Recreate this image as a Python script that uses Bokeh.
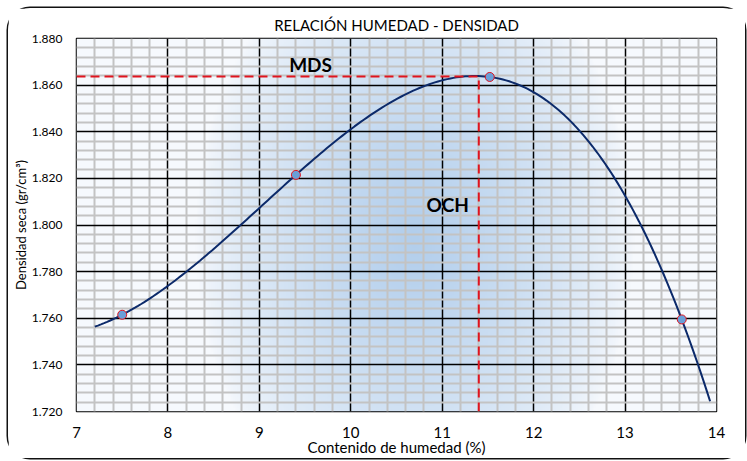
import numpy as np
from bokeh.plotting import figure
from bokeh.layouts import column, row
from bokeh.models import FixedTicker, NumeralTickFormatter, Range1d, Label, Spacer
from bokeh.embed import file_html
from bokeh.resources import INLINE

# ---- data ----
moisture = [7.5, 9.4, 11.52, 13.62]          # Contenido de humedad (%)
density = [1.7615, 1.8215, 1.8635, 1.7595]   # Densidad seca (gr/cm3)
curve_start = 7.2
curve_end = 13.93
och = 11.40      # optimo contenido de humedad
mds = 1.8637     # maxima densidad seca
x_ticks = [7, 8, 9, 10, 11, 12, 13, 14]
y_ticks = [1.72, 1.74, 1.76, 1.78, 1.80, 1.82, 1.84, 1.86, 1.88]
title = "RELACIÓN HUMEDAD - DENSIDAD"

FONT = "Lato"
W, H = 737, 450


def minors(ticks, n=5):
    out = []
    for a, b in zip(ticks[:-1], ticks[1:]):
        out += [a + (b - a) * k / n for k in range(1, n)]
    return out


p = figure(width=W, height=H, output_backend="svg", toolbar_location=None,
           x_range=Range1d(7, 14), y_range=Range1d(1.72, 1.88),
           min_border_left=68, min_border_right=29, min_border_top=30,
           min_border_bottom=47)
p.styles = {"border-radius": "22px", "box-shadow": "0 0 0 1.5px #111"}
p.background_fill_color = "white"
p.border_fill_color = "white"
p.outline_line_color = "black"
p.outline_line_width = 1.5

p.title.text = title
p.title.align = "center"
p.title.text_font = FONT
p.title.text_font_style = "normal"
p.title.text_font_size = "15px"
p.title.text_color = "black"
p.title.standoff = 9

# background radial gradient (style only)
nx, ny = 350, 200
gx = np.linspace(7, 14, nx)
gy = np.linspace(1.72, 1.88, ny)
GX, GY = np.meshgrid(gx, gy)
r = np.sqrt(((GX - 10.7) / 2.4) ** 2 + ((GY - 1.795) / 0.13) ** 2)
t = np.clip(1 - r, 0, 1) ** 0.7
c0 = np.array([246, 249, 253])
c1 = np.array([178, 206, 236])
img = np.empty((ny, nx), dtype=np.uint32)
view = img.view(dtype=np.uint8).reshape((ny, nx, 4))
for k in range(3):
    view[:, :, k] = (c0[k] + (c1[k] - c0[k]) * t).astype(np.uint8)
view[:, :, 3] = 255
p.image_rgba(image=[img], x=7, y=1.72, dw=7, dh=0.16, level="image")

# axes
p.xaxis.ticker = FixedTicker(ticks=x_ticks, minor_ticks=minors(x_ticks))
p.yaxis.ticker = FixedTicker(ticks=y_ticks, minor_ticks=minors(y_ticks))
p.yaxis.formatter = NumeralTickFormatter(format="0.000")
for ax in (p.xaxis[0], p.yaxis[0]):
    ax.axis_line_color = None
    ax.major_tick_line_color = None
    ax.minor_tick_line_color = None
    ax.major_label_text_font = FONT
    ax.axis_label_text_font = FONT
    ax.axis_label_text_font_style = "normal"
    ax.major_label_text_color = "black"
    ax.axis_label_text_color = "black"
p.xaxis.major_label_text_font_size = "15px"
p.yaxis.major_label_text_font_size = "12px"
p.xaxis.axis_label = "Contenido de humedad (%)"
p.yaxis.axis_label = "Densidad seca (gr/cm³)"
p.xaxis.axis_label_text_font_size = "15px"
p.yaxis.axis_label_text_font_size = "13px"
p.xaxis.major_label_standoff = 9
p.yaxis.major_label_standoff = 8
p.xaxis.axis_label_standoff = -3
p.yaxis.axis_label_standoff = 0

# grids
for g in (p.xgrid[0], p.ygrid[0]):
    g.grid_line_color = "black"
    g.grid_line_width = 1.5
    g.minor_grid_line_color = "#c3c3c3"
    g.minor_grid_line_width = 2

# trend line (3rd order polynomial through the data)
coef = np.polyfit(moisture, density, 3)
xs = np.linspace(curve_start, curve_end, 200)
p.line(xs, np.polyval(coef, xs), line_color="#0c2a6a", line_width=2)

# MDS / OCH guides
p.line([7, och], [mds, mds], line_color="#e0141e", line_width=2, line_dash="9 5")
p.line([och, och], [1.72, mds], line_color="#e0141e", line_width=2, line_dash="9 5")

p.scatter(moisture, density, size=9, fill_color="#6a9fd8",
          line_color="#e0141e", line_width=1)

p.add_layout(Label(x=9.56, y=1.8688, text="MDS", text_font=FONT, text_color="black",
                   text_font_style="bold", text_font_size="19px",
                   text_align="center", text_baseline="middle"))
p.add_layout(Label(x=11.06, y=1.8088, text="OCH", text_font=FONT, text_color="black",
                   text_font_style="bold", text_font_size="19px",
                   text_align="center", text_baseline="middle"))

layout = column(Spacer(height=8), row(Spacer(width=8), p))
open("out.html", "w").write(file_html(layout, INLINE))
